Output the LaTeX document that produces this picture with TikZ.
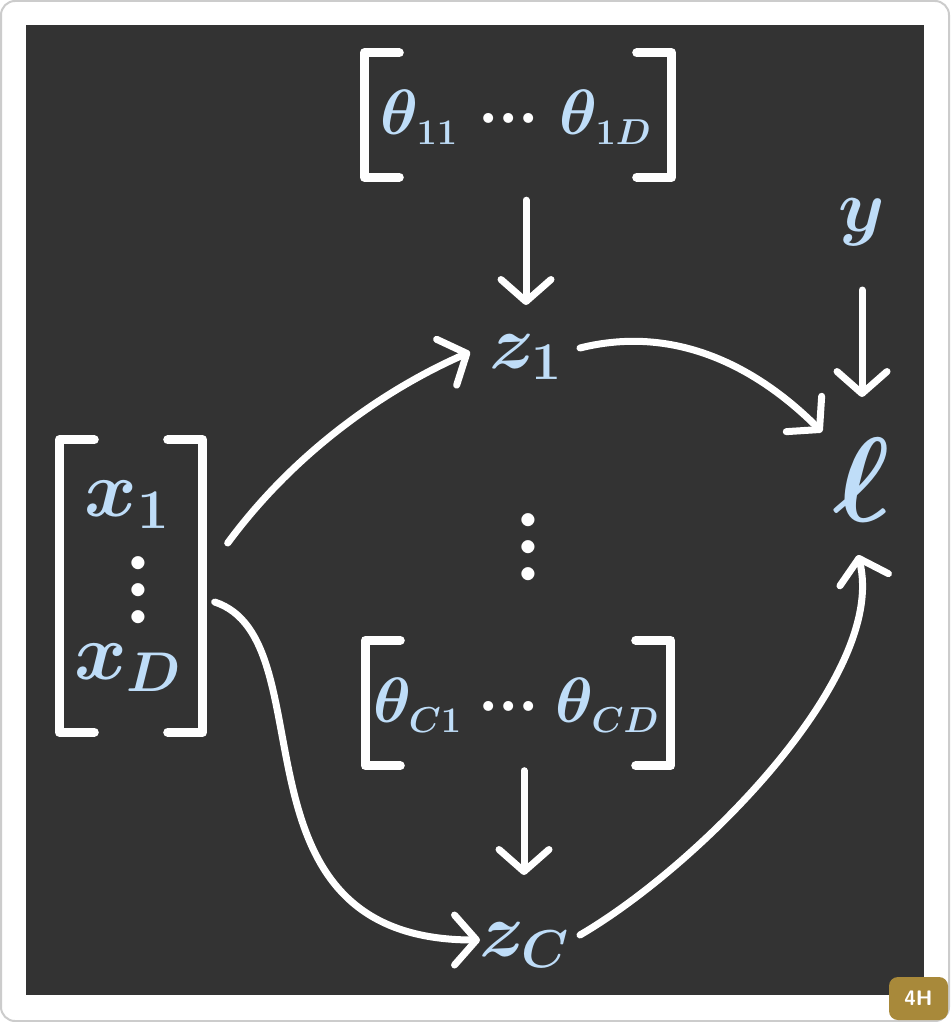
\documentclass[tikz,border=0pt]{standalone}
\usepackage{fix-cm}
\usepackage{amsmath}
\usepackage{xcolor}
\usepackage{tikz}
\usetikzlibrary{arrows.meta,positioning}

\definecolor{board}{HTML}{333333}
\definecolor{chalkblue}{HTML}{BFDDF8}
\definecolor{badgegold}{HTML}{A8893A}
\newcommand\chalksize[1]{\fontsize{#1}{#1}\selectfont\boldmath}
\newcommand\chalkdots{{\color{white}{\boldsymbol\cdotp}{\boldsymbol\cdotp}{\boldsymbol\cdotp}}}
\DeclareMathSizes{64}{64}{36}{28}

\tikzset{
  lbl/.style={text=chalkblue, inner sep=0pt},
  dots/.style={text=white, inner sep=0pt, rotate=90, font=\chalksize{84}},
  vec/.style={minimum width=#1, inner sep=0pt},
  brk/.style={draw=white, line width=9pt, line cap=round, line join=round},
  arr/.style={draw=white, line width=7pt, line cap=round,
    -{Straight Barb[length=22pt,width=50pt,round]}},
}

\begin{document}
\begin{tikzpicture}[x=1pt,y=-1pt]
\useasboundingbox (0,0) rectangle (950,1022);
% board
\draw[gray!40, line width=2pt, fill=white, rounded corners=14pt] (1,1) rectangle (949,1021);
\fill[board] (26,25) rectangle (924,995);
\fill[badgegold, rounded corners=9pt] (889,977) rectangle (948,1020);
\node[text=white, font=\sffamily\bfseries\fontsize{21}{21}\selectfont] (badge) at (918.5,998.5) {4H};

% parameter rows
\node[vec=307pt, minimum height=124pt] (thtop) at (518,115) {};
\draw[brk] ([xshift=35pt]thtop.north west) -| (thtop.south west) -- ++(35,0);
\draw[brk] ([xshift=-35pt]thtop.north east) -| (thtop.south east) -- ++(-35,0);
\node[lbl, font=\chalksize{64}] (thtoplbl) at (516,117) {$\theta_{11}\;\chalkdots\;\theta_{1D}$};

\node[vec=305pt, minimum height=125pt] (thbot) at (518,703) {};
\draw[brk] ([xshift=35pt]thbot.north west) -| (thbot.south west) -- ++(35,0);
\draw[brk] ([xshift=-35pt]thbot.north east) -| (thbot.south east) -- ++(-35,0);
\node[lbl, font=\chalksize{64}] (thbotlbl) at (516,705) {$\theta_{C1}\:\chalkdots\:\theta_{CD}$};

% input vector
\node[vec=143pt, minimum height=292pt] (xv) at (131,586) {};
\draw[brk] ([xshift=35pt]xv.north west) -| (xv.south west) -- ++(35,0);
\draw[brk] ([xshift=-35pt]xv.north east) -| (xv.south east) -- ++(-35,0);
\node[lbl, font=\chalksize{80}] (x1) at (127,505) {$x_1$};
\node[dots] (xdots) at (140,590) {$\chalkdots$};
\node[lbl, font=\chalksize{80}] (xD) at (128,668) {$x_D$};

% logits, target, loss
\node[lbl, font=\chalksize{76}] (z1) at (526,357) {$z_1$};
\node[dots] (zdots) at (530,547) {$\chalkdots$};
\node[lbl, font=\chalksize{76}] (zC) at (524,945) {$z_C$};
\node[lbl, font=\chalksize{74}] (y) at (862,222) {$y$};
\node[lbl, font=\chalksize{120}] (ell) at (862,480) {$\ell$};

\draw[arr, shorten <=23pt, shorten >=52pt] (thtop.south -| z1.center) -- (z1.center);
\draw[arr, shorten <=5pt, shorten >=70pt] (thbot.south -| zC.center) -- (zC.center);
\draw[arr, shorten <=68pt, shorten >=83pt] (y.center) -- (ell.center);

\draw[arr] ([shift={(25pt,43pt)}]xv.east) .. controls +(70,-95) and +(-80,35) .. ([shift={(-56pt,5pt)}]z1.center);
\draw[arr] ([shift={(54pt,9pt)}]z1.center) .. controls +(100,-25) and +(-60,-60) .. ([shift={(-40pt,48pt)}]ell.center);
\draw[arr] ([shift={(12pt,-16pt)}]xv.east) .. controls +(115,38) and +(-260,0) .. ([shift={(-44pt,5pt)}]zC.center);
\draw[arr] ([shift={(56pt,10pt)}]zC.center) .. controls +(120,-70) and +(30,120) .. ([shift={(-4pt,-75pt)}]ell.center);
\end{tikzpicture}
\end{document}
